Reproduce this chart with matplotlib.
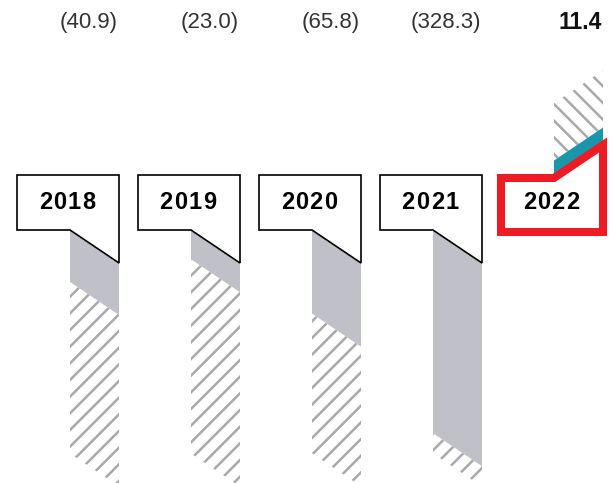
import matplotlib.pyplot as plt
from matplotlib.patches import Polygon

# Data
years = ['2018', '2019', '2020', '2021', '2022']
values = [-40.9, -23.0, -65.8, -328.3, 11.4]
value_labels = ['(40.9)', '(23.0)', '(65.8)', '(328.3)', '11.4']
hatch_len = [135, 153, 110, 16, 45]

# Layout, in pixels of the 613x483 canvas
W, H = 613, 483
PX = 1.27             # pixels per unit
BAR_W = 49
STEP = 121
FIRST = 70
TAB = 53              # box reaches this far left of its bar
SLANT = 33 / PX
BAND = 55 / PX        # height of the year boxes
CAP = 160             # bars longer than this are cut short
CHAR_STEP = 14.5      # letter spacing of the years, pixels

GRAY = '#c0c1c8'
HATCH = '#a9a9ac'
TEAL = '#1a96aa'
RED = '#ed1c24'

plt.rcParams['hatch.linewidth'] = 1.8
plt.rcParams['hatch.color'] = HATCH

fig = plt.figure(figsize=(W / 100, H / 100), dpi=100)
ax = fig.add_axes([0, 0, 1, 1])
ax.set_xlim(0, W)
ax.set_ylim(-(H - 230) / PX, 230 / PX)
ax.axis('off')


def segment(left, d0, d1, up):
    right = left + BAR_W
    if up:
        return [(left, BAND + d0), (right, BAND + d0 + SLANT),
                (right, BAND + d1 + SLANT), (left, BAND + d1)]
    return [(left, -d0), (right, -d0 - SLANT),
            (right, -d1 - SLANT), (left, -d1)]


for i, (year, v) in enumerate(zip(years, values)):
    left = FIRST + STEP * i
    right = left + BAR_W
    up = v > 0
    solid = min(abs(v), CAP)

    # solid part and hatched continuation
    ax.add_patch(Polygon(segment(left, 0, solid, up), closed=True,
                         fc=TEAL if up else GRAY, ec='none', zorder=2))
    ax.add_patch(Polygon(segment(left, solid, solid + hatch_len[i], up), closed=True,
                         fc='white', ec=HATCH, lw=0, hatch='\\\\' if up else '//',
                         zorder=1))

    # year box with a tab pointing along the bar
    if up:
        top, bot = BAND - 3 / PX, -2 / PX
        pts = [(left - TAB, bot), (left - TAB, top), (left, top),
               (right, top + SLANT), (right, bot)]
        ax.add_patch(Polygon(pts, closed=True, fc='white', ec=RED, lw=5.8,
                             joinstyle='miter', zorder=3))
    else:
        pts = [(left - TAB, 0), (left - TAB, BAND), (right, BAND),
               (right, -SLANT), (left, 0)]
        ax.add_patch(Polygon(pts, closed=True, fc='white', ec='black', lw=1.2,
                             joinstyle='miter', zorder=3))

    # spaced-out year digits
    cx = (left - TAB + right) / 2 - 1
    n = len(year)
    for k, ch in enumerate(year):
        ax.text(cx + (k - (n - 1) / 2) * CHAR_STEP, BAND / 2, ch,
                ha='center', va='center', fontsize=17, fontweight='bold',
                family='Liberation Sans', zorder=4)

    ax.text(right - 1, (230 - 22) / PX, value_labels[i], ha='right', va='center',
            fontsize=16.5 if up else 16, fontweight='bold' if up else 'normal',
            family='Liberation Sans', color='#111111' if up else '#333333')

fig.savefig('out.png', dpi=100)
